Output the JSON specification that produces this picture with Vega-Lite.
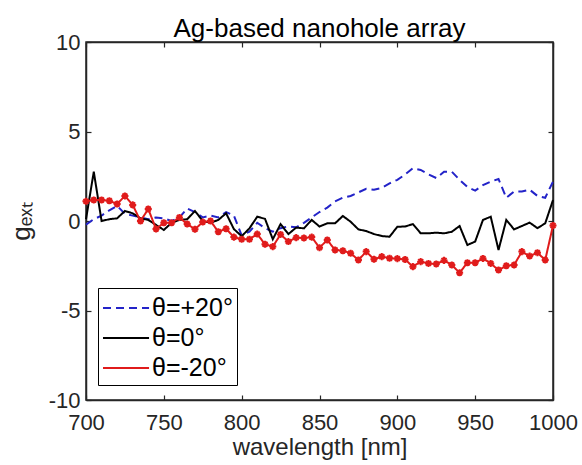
{
  "$schema": "https://vega.github.io/schema/vega-lite/v6.json",
  "width": 467,
  "height": 358,
  "autosize": "none",
  "padding": {"left": 86, "top": 42, "right": 29, "bottom": 65},
  "background": "white",
  "title": {"text": "Ag-based nanohole array", "fontSize": 26, "fontWeight": "normal", "font": "Liberation Sans", "color": "#000000", "offset": 3, "dy": 14},
  "data": {"values": [
    {"w":700,"s":"θ=+20°","g":-0.2},{"w":705,"s":"θ=+20°","g":0.1},{"w":710,"s":"θ=+20°","g":0.3},{"w":715,"s":"θ=+20°","g":0.6},{"w":720,"s":"θ=+20°","g":0.85},{"w":725,"s":"θ=+20°","g":0.4},{"w":730,"s":"θ=+20°","g":0.3},{"w":735,"s":"θ=+20°","g":0.2},{"w":740,"s":"θ=+20°","g":0.1},{"w":745,"s":"θ=+20°","g":0.2},{"w":750,"s":"θ=+20°","g":0.15},{"w":755,"s":"θ=+20°","g":0.0},{"w":760,"s":"θ=+20°","g":0.2},{"w":765,"s":"θ=+20°","g":0.7},{"w":770,"s":"θ=+20°","g":0.5},{"w":775,"s":"θ=+20°","g":0.2},{"w":780,"s":"θ=+20°","g":0.3},{"w":785,"s":"θ=+20°","g":0.2},{"w":790,"s":"θ=+20°","g":0.5},{"w":795,"s":"θ=+20°","g":0.3},{"w":800,"s":"θ=+20°","g":-0.8},{"w":805,"s":"θ=+20°","g":-0.6},{"w":810,"s":"θ=+20°","g":-0.1},{"w":815,"s":"θ=+20°","g":-0.4},{"w":820,"s":"θ=+20°","g":-0.6},{"w":825,"s":"θ=+20°","g":-0.4},{"w":830,"s":"θ=+20°","g":-0.3},{"w":835,"s":"θ=+20°","g":-0.35},{"w":840,"s":"θ=+20°","g":-0.1},{"w":845,"s":"θ=+20°","g":0.2},{"w":850,"s":"θ=+20°","g":0.5},{"w":855,"s":"θ=+20°","g":0.75},{"w":860,"s":"θ=+20°","g":1.1},{"w":865,"s":"θ=+20°","g":1.3},{"w":870,"s":"θ=+20°","g":1.4},{"w":875,"s":"θ=+20°","g":1.6},{"w":880,"s":"θ=+20°","g":1.8},{"w":885,"s":"θ=+20°","g":1.75},{"w":890,"s":"θ=+20°","g":1.85},{"w":895,"s":"θ=+20°","g":2.1},{"w":900,"s":"θ=+20°","g":2.3},{"w":905,"s":"θ=+20°","g":2.6},{"w":910,"s":"θ=+20°","g":2.95},{"w":915,"s":"θ=+20°","g":2.85},{"w":920,"s":"θ=+20°","g":2.6},{"w":925,"s":"θ=+20°","g":2.4},{"w":930,"s":"θ=+20°","g":2.75},{"w":935,"s":"θ=+20°","g":2.75},{"w":940,"s":"θ=+20°","g":2.3},{"w":945,"s":"θ=+20°","g":1.9},{"w":950,"s":"θ=+20°","g":1.7},{"w":955,"s":"θ=+20°","g":2.0},{"w":960,"s":"θ=+20°","g":2.2},{"w":965,"s":"θ=+20°","g":2.35},{"w":970,"s":"θ=+20°","g":1.3},{"w":975,"s":"θ=+20°","g":1.65},{"w":980,"s":"θ=+20°","g":1.65},{"w":985,"s":"θ=+20°","g":1.75},{"w":990,"s":"θ=+20°","g":1.4},{"w":995,"s":"θ=+20°","g":1.3},{"w":1000,"s":"θ=+20°","g":2.2},
    {"w":700,"s":"θ=0°","g":0.1},{"w":705,"s":"θ=0°","g":2.75},{"w":710,"s":"θ=0°","g":0.0},{"w":715,"s":"θ=0°","g":0.1},{"w":720,"s":"θ=0°","g":0.15},{"w":725,"s":"θ=0°","g":0.56},{"w":730,"s":"θ=0°","g":0.43},{"w":735,"s":"θ=0°","g":0.15},{"w":740,"s":"θ=0°","g":0.06},{"w":745,"s":"θ=0°","g":-0.22},{"w":750,"s":"θ=0°","g":-0.5},{"w":755,"s":"θ=0°","g":-0.1},{"w":760,"s":"θ=0°","g":0.06},{"w":765,"s":"θ=0°","g":0.1},{"w":770,"s":"θ=0°","g":0.56},{"w":775,"s":"θ=0°","g":0.0},{"w":780,"s":"θ=0°","g":-0.1},{"w":785,"s":"θ=0°","g":0.06},{"w":790,"s":"θ=0°","g":0.43},{"w":795,"s":"θ=0°","g":-0.45},{"w":800,"s":"θ=0°","g":-0.85},{"w":805,"s":"θ=0°","g":-0.41},{"w":810,"s":"θ=0°","g":0.24},{"w":815,"s":"θ=0°","g":0.12},{"w":820,"s":"θ=0°","g":-1.02},{"w":825,"s":"θ=0°","g":-0.17},{"w":830,"s":"θ=0°","g":-0.73},{"w":835,"s":"θ=0°","g":-0.37},{"w":840,"s":"θ=0°","g":-0.41},{"w":845,"s":"θ=0°","g":0.06},{"w":850,"s":"θ=0°","g":-0.31},{"w":855,"s":"θ=0°","g":-0.13},{"w":860,"s":"θ=0°","g":-0.13},{"w":865,"s":"θ=0°","g":0.28},{"w":870,"s":"θ=0°","g":-0.04},{"w":875,"s":"θ=0°","g":-0.47},{"w":880,"s":"θ=0°","g":-0.56},{"w":885,"s":"θ=0°","g":-0.73},{"w":890,"s":"θ=0°","g":-0.84},{"w":895,"s":"θ=0°","g":-0.88},{"w":900,"s":"θ=0°","g":-0.32},{"w":905,"s":"θ=0°","g":-0.31},{"w":910,"s":"θ=0°","g":-0.17},{"w":915,"s":"θ=0°","g":-0.69},{"w":920,"s":"θ=0°","g":-0.69},{"w":925,"s":"θ=0°","g":-0.65},{"w":930,"s":"θ=0°","g":-0.69},{"w":935,"s":"θ=0°","g":-0.6},{"w":940,"s":"θ=0°","g":-0.28},{"w":945,"s":"θ=0°","g":-1.34},{"w":950,"s":"θ=0°","g":-1.15},{"w":955,"s":"θ=0°","g":0.06},{"w":960,"s":"θ=0°","g":0.24},{"w":965,"s":"θ=0°","g":-1.62},{"w":970,"s":"θ=0°","g":0.06},{"w":975,"s":"θ=0°","g":-0.47},{"w":980,"s":"θ=0°","g":-0.28},{"w":985,"s":"θ=0°","g":-0.09},{"w":990,"s":"θ=0°","g":-0.4},{"w":995,"s":"θ=0°","g":-0.13},{"w":1000,"s":"θ=0°","g":1.17},
    {"w":700,"s":"θ=-20°","g":1.1},{"w":705,"s":"θ=-20°","g":1.17},{"w":710,"s":"θ=-20°","g":1.17},{"w":715,"s":"θ=-20°","g":1.13},{"w":720,"s":"θ=-20°","g":0.95},{"w":725,"s":"θ=-20°","g":1.4},{"w":730,"s":"θ=-20°","g":0.9},{"w":735,"s":"θ=-20°","g":0.0},{"w":740,"s":"θ=-20°","g":0.67},{"w":745,"s":"θ=-20°","g":-0.45},{"w":750,"s":"θ=-20°","g":-0.1},{"w":755,"s":"θ=-20°","g":-0.1},{"w":760,"s":"θ=-20°","g":0.2},{"w":765,"s":"θ=-20°","g":-0.17},{"w":770,"s":"θ=-20°","g":-0.46},{"w":775,"s":"θ=-20°","g":-0.06},{"w":780,"s":"θ=-20°","g":0.0},{"w":785,"s":"θ=-20°","g":-0.6},{"w":790,"s":"θ=-20°","g":-0.43},{"w":795,"s":"θ=-20°","g":-0.9},{"w":800,"s":"θ=-20°","g":-1.02},{"w":805,"s":"θ=-20°","g":-1.02},{"w":810,"s":"θ=-20°","g":-0.73},{"w":815,"s":"θ=-20°","g":-1.3},{"w":820,"s":"θ=-20°","g":-1.43},{"w":825,"s":"θ=-20°","g":-0.75},{"w":830,"s":"θ=-20°","g":-1.15},{"w":835,"s":"θ=-20°","g":-0.93},{"w":840,"s":"θ=-20°","g":-0.95},{"w":845,"s":"θ=-20°","g":-0.9},{"w":850,"s":"θ=-20°","g":-1.49},{"w":855,"s":"θ=-20°","g":-1.06},{"w":860,"s":"θ=-20°","g":-1.62},{"w":865,"s":"θ=-20°","g":-1.66},{"w":870,"s":"θ=-20°","g":-1.8},{"w":875,"s":"θ=-20°","g":-2.18},{"w":880,"s":"θ=-20°","g":-1.71},{"w":885,"s":"θ=-20°","g":-2.14},{"w":890,"s":"θ=-20°","g":-1.99},{"w":895,"s":"θ=-20°","g":-2.08},{"w":900,"s":"θ=-20°","g":-2.1},{"w":905,"s":"θ=-20°","g":-2.15},{"w":910,"s":"θ=-20°","g":-2.55},{"w":915,"s":"θ=-20°","g":-2.27},{"w":920,"s":"θ=-20°","g":-2.37},{"w":925,"s":"θ=-20°","g":-2.4},{"w":930,"s":"θ=-20°","g":-2.2},{"w":935,"s":"θ=-20°","g":-2.46},{"w":940,"s":"θ=-20°","g":-2.89},{"w":945,"s":"θ=-20°","g":-2.33},{"w":950,"s":"θ=-20°","g":-2.33},{"w":955,"s":"θ=-20°","g":-2.09},{"w":960,"s":"θ=-20°","g":-2.37},{"w":965,"s":"θ=-20°","g":-2.74},{"w":970,"s":"θ=-20°","g":-2.5},{"w":975,"s":"θ=-20°","g":-2.46},{"w":980,"s":"θ=-20°","g":-1.71},{"w":985,"s":"θ=-20°","g":-1.96},{"w":990,"s":"θ=-20°","g":-1.77},{"w":995,"s":"θ=-20°","g":-2.18},{"w":1000,"s":"θ=-20°","g":-0.25}
  ]},
  "layer": [
    {
      "mark": {"type": "line", "strokeWidth": 2},
      "encoding": {
        "x": {"field": "w", "type": "quantitative", "scale": {"domain": [700, 1000], "nice": false, "zero": false},
              "axis": {"orient": "bottom", "values": [700, 750, 800, 850, 900, 950, 1000], "labelExpr": "'' + datum.value", "labelFlush": false, "title": "wavelength [nm]", "labelPadding": 17, "titlePadding": 2}},
        "y": {"field": "g", "type": "quantitative", "scale": {"domain": [-10, 10], "nice": false},
              "axis": {"orient": "left", "values": [-10, -5, 0, 5, 10], "title": "gₑₓₜ", "titleFontSize": 26, "labelExpr": "'' + datum.value", "labelFlush": false, "labelPadding": 11, "titlePadding": 14}},
        "color": {"field": "s", "type": "nominal", "scale": {"domain": ["θ=+20°", "θ=0°", "θ=-20°"], "range": ["#2323c8", "#000000", "#e01b1b"]},
                  "legend": {"orient": "none", "legendX": 12, "legendY": 246, "title": null, "labelFontSize": 25, "symbolType": "M-1,0H2.07", "symbolSize": 900, "symbolStrokeWidth": 2, "strokeColor": "#000000", "fillColor": "white", "padding": 4, "rowPadding": 1, "labelOffset": 18}},
        "strokeDash": {"field": "s", "type": "nominal", "scale": {"domain": ["θ=+20°", "θ=0°", "θ=-20°"], "range": [[8, 5], [1, 0], [1, 0]]},
                       "legend": {"orient": "none", "legendX": 12, "legendY": 246, "title": null, "labelFontSize": 25, "symbolType": "M-1,0H2.07", "symbolSize": 900, "symbolStrokeWidth": 2, "strokeColor": "#000000", "fillColor": "white", "padding": 4, "rowPadding": 1, "labelOffset": 18}},
        "order": {"field": "w", "type": "quantitative"}
      }
    },
    {
      "transform": [{"filter": "datum.s == 'θ=-20°'"}],
      "mark": {"type": "point", "shape": "M-1,0L1,0M0,-1L0,1M-0.7,-0.7L0.7,0.7M-0.7,0.7L0.7,-0.7", "filled": false, "stroke": "#e01b1b", "strokeWidth": 2, "size": 50, "opacity": 1},
      "encoding": {
        "x": {"field": "w", "type": "quantitative", "axis": {"orient": "top", "values": [700, 750, 800, 850, 900, 950, 1000], "labels": false, "title": null}},
        "y": {"field": "g", "type": "quantitative", "axis": {"orient": "right", "values": [-10, -5, 0, 5, 10], "labels": false, "title": null}}
      }
    }
  ],
  "resolve": {"axis": {"x": "independent", "y": "independent"}},
  "config": {
    "font": "Liberation Sans",
    "view": {"stroke": "#262626", "strokeWidth": 1.5},
    "axis": {"domainColor": "#262626", "domainWidth": 1.5, "tickColor": "#262626", "tickWidth": 1.2, "tickSize": -5, "labelColor": "#262626", "titleColor": "#262626", "labelFontSize": 22, "titleFontSize": 24, "titleFontWeight": "normal", "labelFont": "Liberation Sans", "titleFont": "Liberation Sans", "grid": false},
    "legend": {"labelFont": "Liberation Sans", "labelColor": "#000000"}
  }
}
